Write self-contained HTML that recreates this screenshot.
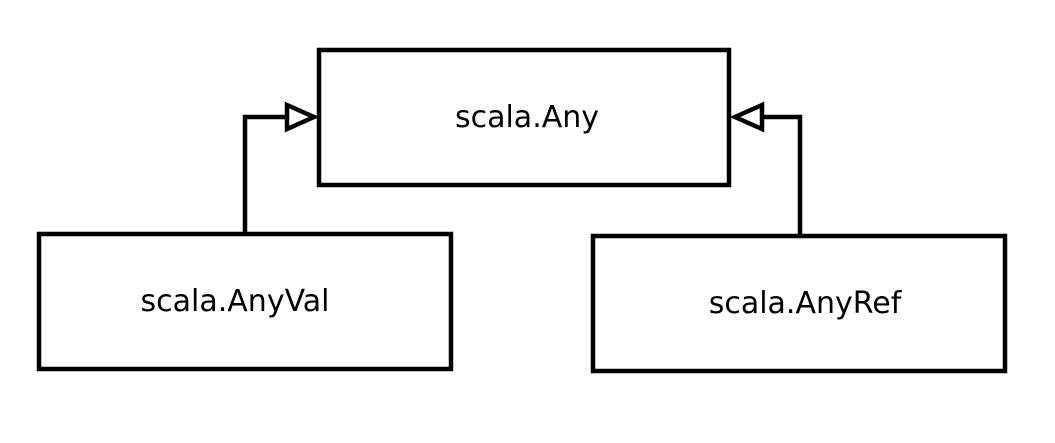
<!DOCTYPE html>
<html><head><meta charset="utf-8"><style>
html,body{margin:0;padding:0;background:#fff;}
svg{display:block}
text{font-family:"DejaVu Sans","Liberation Sans",sans-serif;font-size:30px;fill:#000;text-anchor:middle}
</style></head><body>
<svg width="1055" height="443" viewBox="0 0 1055 443">
<g fill="#fff" stroke="#000" stroke-width="4.5">
<rect x="319" y="50" width="410" height="135"/>
<rect x="39" y="234" width="412" height="135"/>
<rect x="593" y="236" width="412" height="135"/>
<polyline fill="none" points="245,234 245,117 287,117"/>
<polygon points="287,105 314,117 287,129"/>
<polyline fill="none" points="800,236 800,117 762,117"/>
<polygon points="762,105 735,117 762,129"/>
</g>
<text x="527" y="127">scala.Any</text>
<text x="235" y="311">scala.AnyVal</text>
<text x="805" y="313">scala.AnyRef</text>
</svg>
</body></html>
